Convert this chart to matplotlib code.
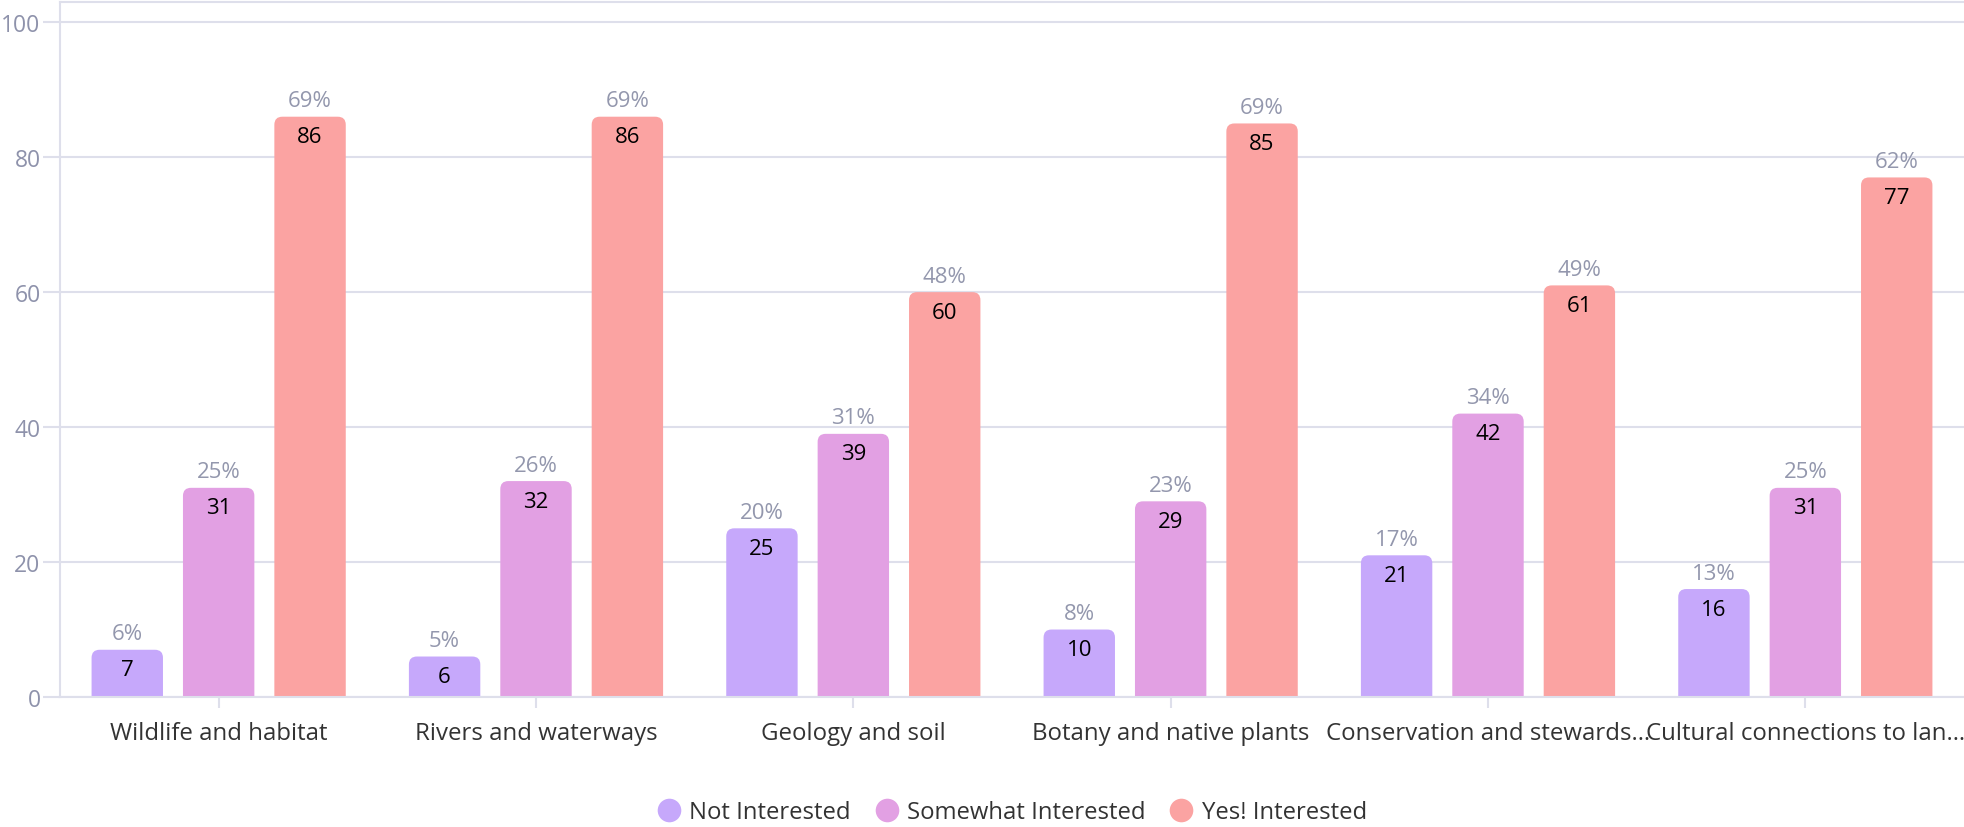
import numpy as np
import matplotlib.pyplot as plt
from matplotlib.patches import FancyBboxPatch
from matplotlib.lines import Line2D

plt.rcParams['font.family'] = ['Open Sans', 'DejaVu Sans']

# data
categories = ['Wildlife and habitat', 'Rivers and waterways', 'Geology and soil',
              'Botany and native plants', 'Conservation and stewards\u2026',
              'Cultural connections to lan\u2026']
series = ['Not Interested', 'Somewhat Interested', 'Yes! Interested']
not_interested = [7, 6, 25, 10, 21, 16]
somewhat_interested = [31, 32, 39, 29, 42, 31]
yes_interested = [86, 86, 60, 85, 61, 77]
not_pct = [6, 5, 20, 8, 17, 13]
somewhat_pct = [25, 26, 31, 23, 34, 25]
yes_pct = [69, 69, 48, 69, 49, 62]
yticks = [0, 20, 40, 60, 80, 100]

values = [not_interested, somewhat_interested, yes_interested]
pcts = [not_pct, somewhat_pct, yes_pct]
colors = ['#c6a8fb', '#e2a0e3', '#fba3a2']
grid_col = '#dedfeb'

fig = plt.figure(figsize=(19.64, 8.28), dpi=100)
ax = fig.add_axes([60 / 1964, 1 - 698 / 828, 1904 / 1964, 695 / 828])

x = np.arange(len(categories))
pitch = 0.288
width = 0.225
# pixels per x unit / pixels per y unit, so the corners come out round
aspect = (1904 / 6) / 6.75
radius = 8 / (1904 / 6)

for i, (vals, pc, col, name) in enumerate(zip(values, pcts, colors, series)):
    pos = x + (i - 1) * pitch
    bars = ax.bar(pos, vals, width=width, color=col, label=name, zorder=3)
    for rect, v, p in zip(bars, vals, pc):
        bx, by, bw, bh = rect.get_x(), rect.get_y(), rect.get_width(), rect.get_height()
        # rounded version of the bar; it starts below 0 so the axes clip
        # away the bottom corners
        drop = 3
        rounded = FancyBboxPatch((bx, by - drop), bw, bh + drop,
                                 boxstyle='round,pad=0,rounding_size=%f' % radius,
                                 mutation_aspect=aspect, fc=col, ec='none', zorder=3)
        ax.add_patch(rounded)
        rect.set_visible(False)
        ax.annotate(str(v), (bx + bw / 2, v), xytext=(0, -14.5), textcoords='offset points',
                    ha='center', va='center', fontsize=16, color='black', zorder=4)
        ax.annotate('%d%%' % p, (bx + bw / 2, v), xytext=(0, 11.5), textcoords='offset points',
                    ha='center', va='center', fontsize=16, color='#9397ad', zorder=4)

ax.set_xlim(-0.5, len(categories) - 0.5)
ax.set_ylim(0, 103)
ax.set_xticks(x)
ax.set_xticklabels(categories, fontsize=17.3, color='#333333')
ax.set_yticks(yticks)
ax.set_yticklabels([str(t) for t in yticks], fontsize=16.5, color='#8e92ab')
ax.tick_params(axis='x', length=8, width=1.5, color=grid_col, pad=9)
ax.tick_params(axis='y', length=12, width=1.5, color=grid_col, pad=2)
ax.grid(axis='y', color=grid_col, linewidth=1.5, zorder=0)
ax.set_axisbelow(True)
ax.spines['right'].set_visible(False)
for s in ['left', 'bottom', 'top']:
    ax.spines[s].set_color(grid_col)
    ax.spines[s].set_linewidth(1.5)
ax.spines['bottom'].set_zorder(5)

# round markers for legend
handles = [Line2D([], [], marker='o', linestyle='none', markersize=17,
                  markerfacecolor=c, markeredgecolor='none') for c in colors]
ax.legend(handles, series, loc='center', bbox_to_anchor=(0.5, -0.166), ncol=3,
          frameon=False, fontsize=17.2, handlelength=1.0, handletextpad=0.35,
          columnspacing=1.0, labelcolor='#333333')

fig.savefig('out.png', dpi=100)
